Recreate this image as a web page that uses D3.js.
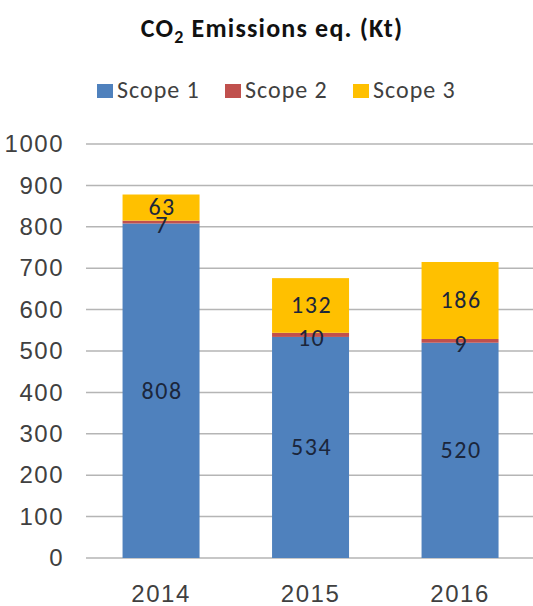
<!DOCTYPE html>
<html>
<head>
<meta charset="utf-8">
<script src="https://cdn.jsdelivr.net/npm/d3@7"></script>
<style>
  html, body { margin: 0; padding: 0; background: #fff; }
  svg { display: block; font-family: Calibri, Carlito, "Open Sans", sans-serif; }
</style>
</head>
<body>
<svg id="chart" width="533" height="606"></svg>
<script>
// Emission figures per year (Kt CO2 eq.)
const years = ["2014", "2015", "2016"];
const scope1 = [808, 534, 520];
const scope2 = [7, 10, 9];
const scope3 = [63, 132, 186];
const seriesNames = ["Scope 1", "Scope 2", "Scope 3"];
const seriesColors = ["#4F81BD", "#C0504D", "#FFC000"];
const yTicks = [0, 100, 200, 300, 400, 500, 600, 700, 800, 900, 1000];

const svg = d3.select("#chart");
const W = 533, H = 606;

const rows = years.map((y, i) => ({ year: y, "Scope 1": scope1[i], "Scope 2": scope2[i], "Scope 3": scope3[i] }));
const stacked = d3.stack().keys(seriesNames)(rows);

const x = d3.scaleBand().domain(years).range([86.3, 534.8]).paddingInner(0.485).paddingOuter(0.2425);
const y = d3.scaleLinear().domain([0, 1000]).range([558, 144]);
const color = d3.scaleOrdinal().domain(seriesNames).range(seriesColors);

// Title with subscript
const title = svg.append("text")
  .attr("x", 272).attr("y", 37)
  .attr("text-anchor", "middle")
  .attr("font-size", 26).attr("font-weight", "bold").attr("fill", "#111")
  .attr("letter-spacing", 1.2);
title.append("tspan").text("CO");
title.append("tspan").attr("font-size", 18).attr("dy", 6).text("2");
title.append("tspan").attr("dy", -6).text(" Emissions eq. (Kt)");

// Legend
const legendX = [97, 225, 353];
const legend = svg.append("g");
seriesNames.forEach((name, i) => {
  const g = legend.append("g").attr("transform", `translate(${legendX[i]},0)`);
  g.append("rect").attr("x", 0).attr("y", 84).attr("width", 16).attr("height", 14).attr("fill", color(name));
  g.append("text").attr("x", 20).attr("y", 98).attr("font-size", 24)
    .attr("letter-spacing", 1).attr("fill", "#404040").text(name);
});

// Gridlines
svg.append("g").selectAll("line").data(yTicks).join("line")
  .attr("x1", 86).attr("x2", W)
  .attr("y1", d => y(d)).attr("y2", d => y(d))
  .attr("stroke", "#b5b5b5").attr("stroke-width", 1.5);

// Y axis labels
const yAxis = svg.append("g").attr("transform", "translate(86,0)")
  .call(d3.axisLeft(y).tickValues(yTicks).tickFormat(d3.format("d")).tickSize(0).tickPadding(22));
yAxis.select(".domain").remove();
yAxis.selectAll("text").attr("font-size", 24).attr("letter-spacing", 1.5)
  .attr("fill", "#404040").attr("font-family", null);

// Stacked bars
const layers = svg.append("g").selectAll("g").data(stacked).join("g")
  .attr("fill", d => color(d.key));
layers.selectAll("rect").data(d => d).join("rect")
  .attr("x", d => x(d.data.year))
  .attr("width", x.bandwidth())
  .attr("y", d => y(d[1]))
  .attr("height", d => y(d[0]) - y(d[1]));

// Value labels at segment centers; the thin Scope 2 labels sit a little lower
svg.append("g").selectAll("g").data(stacked).join("g")
  .selectAll("text").data(d => d.map(v => ({ v, key: d.key }))).join("text")
  .attr("x", d => x(d.v.data.year) + x.bandwidth() / 2 + 1)
  .attr("y", d => y((d.v[0] + d.v[1]) / 2) + (d.key === "Scope 2" ? 3 : 0))
  .attr("dy", "0.33em")
  .attr("text-anchor", "middle")
  .attr("font-size", 24)
  .attr("letter-spacing", 1.5)
  .attr("fill", "#1b263b")
  .text(d => d.v.data[d.key]);

// X axis labels
const xAxis = svg.append("g").attr("transform", `translate(0,${y(0)})`)
  .call(d3.axisBottom(x).tickSize(0).tickPadding(27));
xAxis.select(".domain").remove();
xAxis.selectAll("text").attr("font-size", 24).attr("letter-spacing", 1.5)
  .attr("fill", "#404040").attr("font-family", null);
</script>
</body>
</html>
